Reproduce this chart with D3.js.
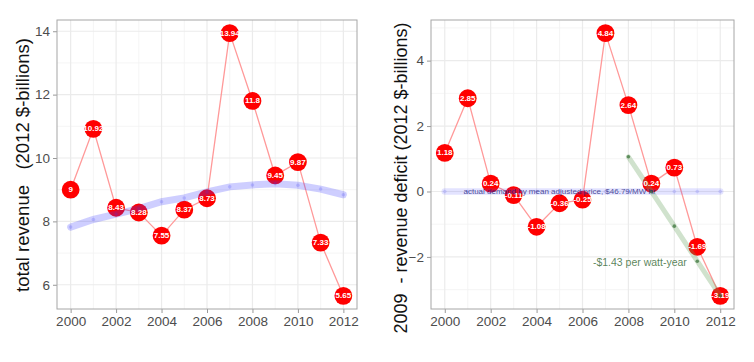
<!DOCTYPE html>
<html>
  <head>
    <meta charset="utf-8" />
    <script src="https://d3js.org/d3.v7.min.js"></script>
    <style>
      body {
        margin: 0;
        background: #fff;
      }
      svg {
        display: block;
        font-family: "Liberation Sans", Arial, sans-serif;
      }
    </style>
  </head>
  <body>
    <svg id="chart" width="754" height="362"></svg>
    <script>
      // data
      const years = [2000, 2001, 2002, 2003, 2004, 2005, 2006, 2007, 2008, 2009, 2010, 2011, 2012];
      const revenue = [9, 10.92, 8.43, 8.28, 7.55, 8.37, 8.73, 13.94, 11.8, 9.45, 9.87, 7.33, 5.65];
      const revenueSmooth = [7.82, 8.06, 8.23, 8.4, 8.62, 8.74, 8.93, 9.09, 9.15, 9.19, 9.14, 9.02, 8.84];
      const deficit = [1.18, 2.85, 0.24, -0.11, -1.08, -0.36, -0.25, 4.84, 2.64, 0.24, 0.73, -1.69, -3.19];
      const demandLine = [0, 0, 0, 0, 0, 0, 0, 0, 0, 0, 0, 0, 0];
      const trendYears = [2008, 2009, 2010, 2011, 2012];
      const trendValues = [1.06, 0, -1.06, -2.13, -3.19];
      const xTicks = [2000, 2002, 2004, 2006, 2008, 2010, 2012];
      const xMinor = [2001, 2003, 2005, 2007, 2009, 2011];
      const leftTicks = [6, 8, 10, 12, 14];
      const leftMinor = [7, 9, 11, 13];
      const rightTicks = [-2, 0, 2, 4];
      const rightMinor = [-3, -1, 1, 3, 5];

      const svg = d3.select("#chart");
      const plotTop = 20, plotBottom = 309;

      function drawPanel({ x0, x1, yDomain, ticks, minor, title, titleX, titleY, titleSize }) {
        const x = d3.scaleLinear([1999.4, 2012.6], [x0, x1]);
        const y = d3.scaleLinear(yDomain, [plotBottom, plotTop]);
        const g = svg.append("g");

        // grid
        g.selectAll(null).data(minor).join("line")
          .attr("x1", x0).attr("x2", x1)
          .attr("y1", d => y(d)).attr("y2", d => y(d))
          .attr("stroke", "#f3f3f3").attr("stroke-width", 0.8);
        g.selectAll(null).data(xMinor).join("line")
          .attr("x1", d => x(d)).attr("x2", d => x(d))
          .attr("y1", plotTop).attr("y2", plotBottom)
          .attr("stroke", "#f3f3f3").attr("stroke-width", 0.8);
        g.selectAll(null).data(ticks).join("line")
          .attr("x1", x0).attr("x2", x1)
          .attr("y1", d => y(d)).attr("y2", d => y(d))
          .attr("stroke", "#ebebeb").attr("stroke-width", 1.2);
        g.selectAll(null).data(xTicks).join("line")
          .attr("x1", d => x(d)).attr("x2", d => x(d))
          .attr("y1", plotTop).attr("y2", plotBottom)
          .attr("stroke", "#ebebeb").attr("stroke-width", 1.2);

        // axes
        const ax = g.append("g")
          .attr("transform", `translate(0,${plotBottom})`)
          .call(d3.axisBottom(x).tickValues(xTicks).tickFormat(d3.format("d")).tickSize(4).tickPadding(3));
        const ay = g.append("g")
          .attr("transform", `translate(${x0},0)`)
          .call(d3.axisLeft(y).tickValues(ticks).tickSize(4).tickPadding(3));
        [ax, ay].forEach(a => {
          a.select(".domain").remove();
          a.selectAll(".tick line").attr("stroke", "#999");
          a.selectAll("text").attr("fill", "#4d4d4d").style("font-size", "13.5px")
            .style("font-family", "'Liberation Sans', Arial, sans-serif");
        });

        g.append("rect")
          .attr("x", x0).attr("y", plotTop)
          .attr("width", x1 - x0).attr("height", plotBottom - plotTop)
          .attr("fill", "none").attr("stroke", "#a6a6a6").attr("stroke-width", 1);

        g.append("text")
          .attr("transform", `translate(${titleX},${titleY}) rotate(-90)`)
          .attr("text-anchor", "middle")
          .attr("dominant-baseline", "central")
          .style("font-size", titleSize + "px")
          .attr("fill", "#111")
          .style("white-space", "pre")
          .text(title);

        return { g, x, y };
      }

      function drawSeries(p, values) {
        const line = d3.line().x((d, i) => p.x(years[i])).y(d => p.y(d));
        p.g.append("path")
          .datum(values)
          .attr("d", line)
          .attr("fill", "none")
          .attr("stroke", "#ff9999")
          .attr("stroke-width", 1.3);
        p.g.selectAll(null).data(values).join("circle")
          .attr("cx", (d, i) => p.x(years[i]))
          .attr("cy", d => p.y(d))
          .attr("r", 8.9)
          .attr("fill", "#ff0000");
      }

      function drawBand(p, xs, values, color, width, dotColor) {
        const line = d3.line().x((d, i) => p.x(xs[i])).y(d => p.y(d));
        p.g.append("path")
          .datum(values)
          .attr("d", line)
          .attr("fill", "none")
          .attr("stroke", color)
          .attr("stroke-width", width)
          .attr("stroke-linecap", "round");
        p.g.selectAll(null).data(values).join("circle")
          .attr("cx", (d, i) => p.x(xs[i]))
          .attr("cy", d => p.y(d))
          .attr("r", 1.8)
          .attr("fill", dotColor);
      }

      function drawLabels(p, values) {
        p.g.selectAll(null).data(values).join("text")
          .attr("x", (d, i) => p.x(years[i]))
          .attr("y", d => p.y(d))
          .attr("text-anchor", "middle")
          .attr("dominant-baseline", "central")
          .attr("fill", "#fff")
          .style("font-size", "8px")
          .style("font-weight", "bold")
          .text(d => d);
      }

      // left panel
      const left = drawPanel({
        x0: 57, x1: 357,
        yDomain: [5.2355, 14.3545],
        ticks: leftTicks, minor: leftMinor,
        title: "total revenue   (2012 $-billions)",
        titleX: 22, titleY: 165, titleSize: 18.5
      });
      drawSeries(left, revenue);
      drawBand(left, years, revenueSmooth, "rgba(60,60,255,0.25)", 7, "rgba(60,60,255,0.2)");
      drawLabels(left, revenue);

      // right panel
      const right = drawPanel({
        x0: 431, x1: 734,
        yDomain: [-3.5915, 5.2415],
        ticks: rightTicks, minor: rightMinor,
        title: "2009  - revenue deficit (2012 $-billions)",
        titleX: 401, titleY: 178, titleSize: 18
      });
      drawSeries(right, deficit);
      drawBand(right, years, demandLine, "rgba(80,80,255,0.16)", 6.5, "rgba(80,80,255,0.18)");
      drawBand(right, trendYears, trendValues, "rgba(100,160,90,0.3)", 5, "rgba(50,110,50,0.7)");
      drawLabels(right, deficit);

      right.g.append("text")
        .attr("x", right.x(2005))
        .attr("y", right.y(0))
        .attr("text-anchor", "middle")
        .attr("dominant-baseline", "central")
        .attr("fill", "rgba(30,30,130,0.8)")
        .style("font-size", "8px")
        .text("actual demand by mean adjusted price, $46.79/MW hr");

      right.g.append("text")
        .attr("x", right.x(2008.5))
        .attr("y", right.y(-2.17))
        .attr("text-anchor", "middle")
        .attr("dominant-baseline", "central")
        .attr("fill", "rgba(60,110,60,0.85)")
        .style("font-size", "10.5px")
        .text("-$1.43 per watt-year");
    </script>
  </body>
</html>
